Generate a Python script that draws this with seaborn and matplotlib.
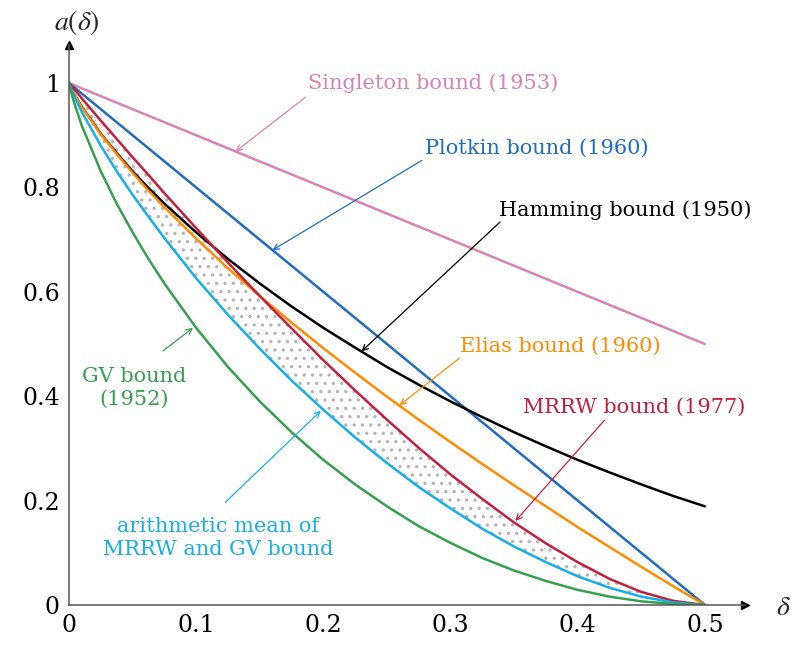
import numpy as np
import pandas as pd
import seaborn as sns
import matplotlib.pyplot as plt

# bounds on the rate a(delta)
delta = [0, 0.0025, 0.005, 0.01, 0.025, 0.0375, 0.05, 0.0625, 0.075, 0.1, 0.125,
         0.15, 0.175, 0.2, 0.225, 0.25, 0.275, 0.3, 0.325, 0.35, 0.375, 0.4,
         0.425, 0.45, 0.475, 0.5]
gv = [1, 0.975, 0.955, 0.919, 0.831, 0.769, 0.714, 0.663, 0.616, 0.531, 0.456,
      0.390, 0.331, 0.278, 0.231, 0.189, 0.151, 0.119, 0.090, 0.066, 0.046, 0.029,
      0.016, 0.007, 0.002, 0]
hamming = [1, 0.986, 0.975, 0.955, 0.903, 0.866, 0.831, 0.799, 0.769, 0.714, 0.663,
           0.616, 0.572, 0.531, 0.493, 0.456, 0.422, 0.390, 0.360, 0.331, 0.304, 0.278,
           0.254, 0.231, 0.209, 0.189]
elias = [1, 0.986, 0.975, 0.954, 0.902, 0.864, 0.828, 0.794, 0.762, 0.702, 0.645,
         0.592, 0.541, 0.492, 0.445, 0.399, 0.355, 0.312, 0.270, 0.229, 0.189, 0.149,
         0.111, 0.073, 0.036, 0]
mrrw = [1, 0.993, 0.986, 0.971, 0.928, 0.893, 0.858, 0.824, 0.789, 0.722, 0.656,
        0.592, 0.530, 0.469, 0.411, 0.355, 0.301, 0.250, 0.203, 0.158, 0.118, 0.082,
        0.050, 0.025, 0.008, 0]
mean_mrrw_gv = [1, 0.984, 0.970, 0.945, 0.880, 0.831, 0.786, 0.744, 0.703, 0.626, 0.556,
                0.491, 0.430, 0.374, 0.321, 0.272, 0.226, 0.185, 0.146, 0.112, 0.082, 0.055,
                0.033, 0.016, 0.005, 0]
delta_lin = [0, 0.5]
singleton = [1, 0.5]
plotkin = [1, 0]

x_ticks = [0, 0.1, 0.2, 0.3, 0.4, 0.5]
y_ticks = [0, 0.2, 0.4, 0.6, 0.8, 1]

c_single = '#D883B6'
c_plotkin = '#1F6CC0'
c_hamming = '#000000'
c_elias = '#FF8C00'
c_mrrw = '#C21F3D'
c_mean = '#16AEEB'
c_gv = '#36A050'

sns.set_style("white")
plt.rcParams['font.family'] = ['DejaVu Serif']
plt.rcParams['mathtext.fontset'] = 'stix'
plt.rcParams['hatch.linewidth'] = 1.2

fig = plt.figure(figsize=(7.94, 6.5), dpi=100)
ax = fig.add_axes([69 / 794, 45 / 650, (745 - 69) / 794, (605 - 45) / 650])

df = pd.DataFrame({'delta': delta, 'gv': gv, 'hamming': hamming, 'elias': elias,
                   'mrrw': mrrw, 'mean': mean_mrrw_gv})

# dotted band between the mean and MRRW
ax.fill_between(df['delta'], df['mean'], df['mrrw'], facecolor='none',
                edgecolor='#b5b5b5', hatch='..', linewidth=0)

lw = 1.8
sns.lineplot(x=delta_lin, y=singleton, color=c_single, lw=lw, ax=ax)
sns.lineplot(x=delta_lin, y=plotkin, color=c_plotkin, lw=lw, ax=ax)
sns.lineplot(data=df, x='delta', y='hamming', color=c_hamming, lw=lw, ax=ax)
sns.lineplot(data=df, x='delta', y='elias', color=c_elias, lw=lw, ax=ax)
sns.lineplot(data=df, x='delta', y='mrrw', color=c_mrrw, lw=lw, ax=ax)
sns.lineplot(data=df, x='delta', y='mean', color=c_mean, lw=lw, ax=ax)
sns.lineplot(data=df, x='delta', y='gv', color=c_gv, lw=lw, ax=ax)

ax.set_xlim(0, 0.5315)
ax.set_ylim(0, 1.073)
ax.set_xticks(x_ticks)
ax.set_xticklabels(['0', '0.1', '0.2', '0.3', '0.4', '0.5'])
ax.set_yticks(y_ticks)
ax.set_yticklabels(['0', '0.2', '0.4', '0.6', '0.8', '1'])
ax.tick_params(direction='inout', length=9, width=0.9, color='#555555',
               labelsize=17, labelcolor='black', pad=2)
ax.set_xlabel('')
ax.set_ylabel('')
for s in ['top', 'right']:
    ax.spines[s].set_visible(False)
for s in ['left', 'bottom']:
    ax.spines[s].set_color('#555555')
    ax.spines[s].set_linewidth(1.1)
ax.plot(1, 0, marker='>', color='black', markersize=6, transform=ax.transAxes, clip_on=False)
ax.plot(0, 1, marker='^', color='black', markersize=6, transform=ax.transAxes, clip_on=False)

ax.text(0.006, 1.117, r'$a(\delta)$', fontsize=20, ha='center', va='center')
ax.text(0.562, -0.004, r'$\delta$', fontsize=20, ha='center', va='center')

fs = 15
ax.text(0.286, 1.0, 'Singleton bound (1953)', color=c_single, fontsize=fs, ha='center', va='center')
ax.text(0.368, 0.875, 'Plotkin bound (1960)', color=c_plotkin, fontsize=fs, ha='center', va='center')
ax.text(0.437, 0.757, 'Hamming bound (1950)', color=c_hamming, fontsize=fs, ha='center', va='center')
ax.text(0.386, 0.496, 'Elias bound (1960)', color=c_elias, fontsize=fs, ha='center', va='center')
ax.text(0.444, 0.379, 'MRRW bound (1977)', color=c_mrrw, fontsize=fs, ha='center', va='center')
ax.text(0.051, 0.416, 'GV bound\n(1952)', color=c_gv, fontsize=fs, ha='center', va='center',
        linespacing=1.3)
ax.text(0.117, 0.128, 'arithmetic mean of\nMRRW and GV bound', color=c_mean, fontsize=fs,
        ha='center', va='center', linespacing=1.3)

arrows = [
    ((0.186, 0.973), (0.131, 0.869), c_single),
    ((0.2775, 0.852), (0.160, 0.680), c_plotkin),
    ((0.339, 0.734), (0.230, 0.486), c_hamming),
    ((0.307, 0.473), (0.260, 0.383), c_elias),
    ((0.421, 0.354), (0.351, 0.161), c_mrrw),
    ((0.074, 0.487), (0.0975, 0.531), c_gv),
    ((0.123, 0.197), (0.198, 0.372), c_mean),
]
for start, end, col in arrows:
    ax.annotate('', xy=end, xytext=start,
                arrowprops=dict(arrowstyle='->', color=col, lw=0.9,
                                shrinkA=0, shrinkB=0))

plt.savefig('out.png', dpi=100)
